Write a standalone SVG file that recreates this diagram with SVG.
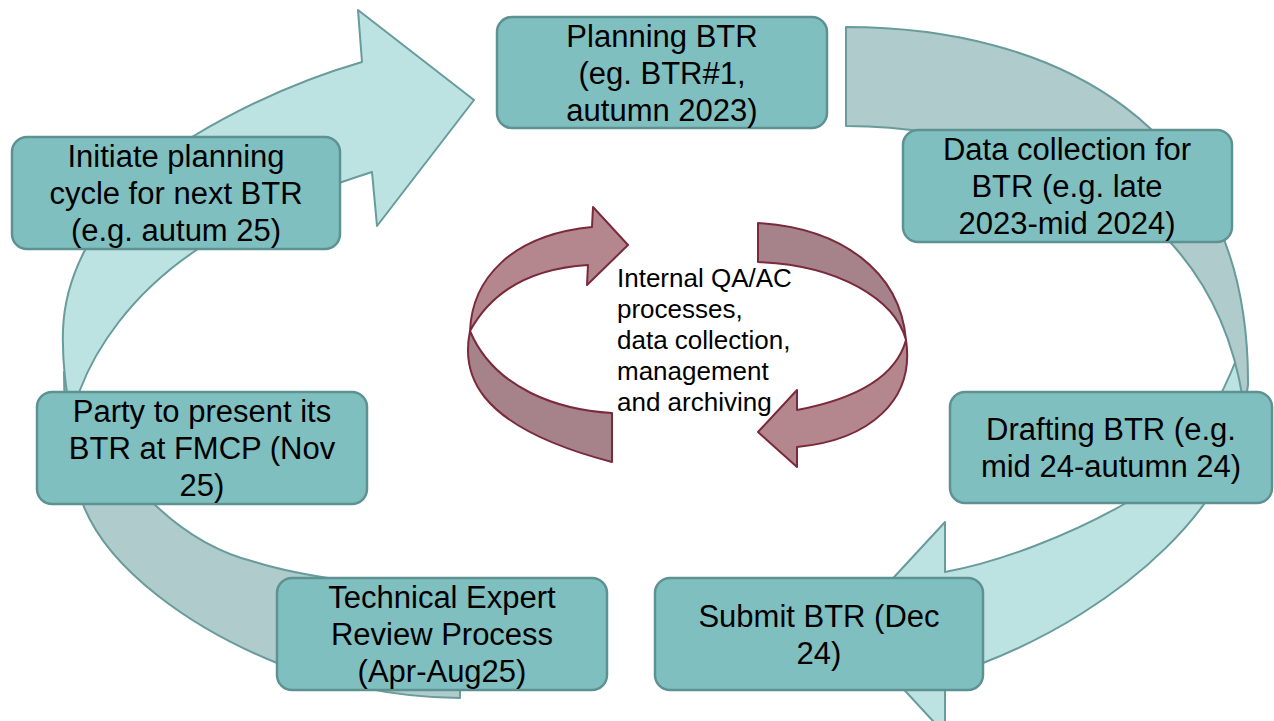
<svg xmlns="http://www.w3.org/2000/svg" width="1274" height="721" viewBox="0 0 1274 721">
  <style>
    .box { fill: #80bfbf; stroke: #5e9292; stroke-width: 2.5; }
    .lbl { font-family: "Liberation Sans", Arial, sans-serif; font-size: 31px; fill: #000; text-anchor: middle; }
    .mid { font-family: "Liberation Sans", Arial, sans-serif; font-size: 26px; fill: #000; }
    .light { fill: #bde2e2; stroke: #689b9b; stroke-width: 2; stroke-linejoin: round; }
    .grey { fill: #afcbcb; stroke: #689b9b; stroke-width: 2; stroke-linejoin: round; }
    .wine-front { fill: #b4878e; stroke: #7a2a3b; stroke-width: 2; stroke-linejoin: round; }
    .wine-back { fill: #a6838a; stroke: #7a2a3b; stroke-width: 2; stroke-linejoin: round; }
  </style>
  <rect width="1274" height="721" fill="#ffffff"/>

  <g id="connectors">
    <!-- outer cycle: review -> presentation -->
    <path class="grey" d="M 460,590 L 460,698 C 390,698 320,680 277,663 C 190,628 110,570 84,507 C 70,470 64,420 64,372 C 75,420 110,460 150,500 C 180,530 215,552 255,562 C 300,576 380,588 460,590 Z"/>
    <!-- outer cycle: initiate -> planning -->
    <path class="light" d="M 358,10 L 474,100 L 377,226 L 372,172 C 300,195 240,220 195,251 C 130,295 95,350 80,390 L 72,415 C 66,395 62,360 63,330 C 64,300 72,275 85,250 C 110,200 145,165 192,137 C 240,108 300,80 362,62 Z"/>
    <!-- outer cycle: drafting -> submit -->
    <path class="light" d="M 945,522 L 847,628 L 945,734 L 945,680 L 983,663 C 1120,610 1245,500 1247,392 L 1242,345 C 1210,430 1175,473 1126,503 C 1070,535 1000,562 945,572 Z"/>
    <!-- outer cycle: planning -> data collection -> drafting -->
    <path class="grey" d="M 846,27 C 1050,27 1250,120 1248,385 L 1245,405 L 1243,400 C 1232,330 1205,280 1170,242 C 1110,180 980,126 846,126 Z"/>

    <!-- inner loop, left ribbon -->
    <path class="wine-back" d="M 470,331 C 462,370 470,425 612,462 L 612,413 C 560,410 495,390 470,331 Z"/>
    <path class="wine-front" d="M 593,207 L 628,245 L 587,285 L 588,265 C 540,268 495,285 470,331 C 472,280 510,235 592,227 Z"/>
    <!-- inner loop, right ribbon -->
    <path class="wine-back" d="M 758,223 C 840,228 900,270 906,340 C 895,300 840,265 758,262 Z"/>
    <path class="wine-front" d="M 906,340 C 915,400 870,440 797,447 L 797,467 L 758,432 L 797,390 L 797,410 C 850,400 895,380 906,340 Z"/>
  </g>

  <g id="node-planning">
    <rect class="box" x="497" y="17" width="330" height="111" rx="15"/>
    <text class="lbl" x="662" y="47">Planning BTR</text>
    <text class="lbl" x="662" y="84">(eg. BTR#1,</text>
    <text class="lbl" x="662" y="121">autumn 2023)</text>
  </g>

  <g id="node-initiate">
    <rect class="box" x="12" y="137" width="328" height="112" rx="15"/>
    <text class="lbl" x="176" y="167">Initiate planning</text>
    <text class="lbl" x="176" y="204">cycle for next BTR</text>
    <text class="lbl" x="176" y="241">(e.g. autum 25)</text>
  </g>

  <g id="node-data">
    <rect class="box" x="903" y="130" width="329" height="112" rx="15"/>
    <text class="lbl" x="1067" y="160">Data collection for</text>
    <text class="lbl" x="1067" y="197">BTR (e.g. late</text>
    <text class="lbl" x="1067" y="234">2023-mid 2024)</text>
  </g>

  <g id="node-drafting">
    <rect class="box" x="950" y="392" width="322" height="111" rx="15"/>
    <text class="lbl" x="1111" y="440">Drafting BTR (e.g.</text>
    <text class="lbl" x="1111" y="477">mid 24-autumn 24)</text>
  </g>

  <g id="node-submit">
    <rect class="box" x="655" y="578" width="328" height="112" rx="15"/>
    <text class="lbl" x="819" y="627">Submit BTR (Dec</text>
    <text class="lbl" x="819" y="664">24)</text>
  </g>

  <g id="node-review">
    <rect class="box" x="277" y="578" width="330" height="112" rx="15"/>
    <text class="lbl" x="442" y="608">Technical Expert</text>
    <text class="lbl" x="442" y="645">Review Process</text>
    <text class="lbl" x="442" y="682">(Apr-Aug25)</text>
  </g>

  <g id="node-present">
    <rect class="box" x="37" y="392" width="330" height="112" rx="15"/>
    <text class="lbl" x="202" y="422">Party to present its</text>
    <text class="lbl" x="202" y="459">BTR at FMCP (Nov</text>
    <text class="lbl" x="202" y="496">25)</text>
  </g>

  <g id="node-internal">
    <text class="mid" x="617" y="287">Internal QA/AC</text>
    <text class="mid" x="617" y="318">processes,</text>
    <text class="mid" x="617" y="349">data collection,</text>
    <text class="mid" x="617" y="380">management</text>
    <text class="mid" x="617" y="411">and archiving</text>
  </g>
</svg>
